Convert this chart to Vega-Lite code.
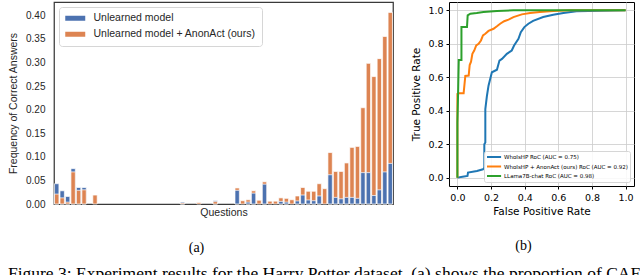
{
  "$schema": "https://vega.github.io/schema/vega-lite/v6.json",
  "background": "white",
  "padding": {"left": 7, "top": 1, "right": 2, "bottom": 0},
  "spacing": 17,
  "resolve": {"scale": {"color": "independent"}, "legend": {"color": "independent"}},
  "title": {"text": "Figure 3: Experiment results for the Harry Potter dataset. (a) shows the proportion of CAF", "orient": "bottom", "anchor": "start", "font": "Liberation Serif", "fontSize": 17.5, "fontWeight": "normal", "color": "black", "offset": 10},
  "datasets": {
    "bars": [
      {"q": 0, "u": 0.043, "a": 0.021}, {"q": 1, "u": 0.028, "a": 0.013}, {"q": 2, "u": 0.016, "a": 0.004},
      {"q": 3, "u": 0.075, "a": 0.068}, {"q": 4, "u": 0.035, "a": 0.029}, {"q": 5, "u": 0.035, "a": 0.030},
      {"q": 6, "u": 0, "a": 0}, {"q": 7, "u": 0, "a": 0.019}, {"q": 8, "u": 0, "a": 0}, {"q": 9, "u": 0, "a": 0},
      {"q": 10, "u": 0, "a": 0}, {"q": 11, "u": 0, "a": 0}, {"q": 12, "u": 0, "a": 0}, {"q": 13, "u": 0, "a": 0},
      {"q": 14, "u": 0, "a": 0}, {"q": 15, "u": 0, "a": 0}, {"q": 16, "u": 0, "a": 0}, {"q": 17, "u": 0, "a": 0},
      {"q": 18, "u": 0, "a": 0}, {"q": 19, "u": 0, "a": 0}, {"q": 20, "u": 0, "a": 0}, {"q": 21, "u": 0, "a": 0},
      {"q": 22, "u": 0, "a": 0}, {"q": 23, "u": 0.004, "a": 0.002}, {"q": 24, "u": 0, "a": 0}, {"q": 25, "u": 0, "a": 0},
      {"q": 26, "u": 0, "a": 0.003}, {"q": 27, "u": 0, "a": 0}, {"q": 28, "u": 0, "a": 0}, {"q": 29, "u": 0.007, "a": 0.005},
      {"q": 30, "u": 0, "a": 0}, {"q": 31, "u": 0, "a": 0}, {"q": 32, "u": 0, "a": 0}, {"q": 33, "u": 0.029, "a": 0.034},
      {"q": 34, "u": 0, "a": 0.007}, {"q": 35, "u": 0.004, "a": 0.009}, {"q": 36, "u": 0.023, "a": 0.028},
      {"q": 37, "u": 0, "a": 0.008}, {"q": 38, "u": 0.042, "a": 0.047}, {"q": 39, "u": 0, "a": 0.006},
      {"q": 40, "u": 0, "a": 0.006}, {"q": 41, "u": 0.0055, "a": 0.013}, {"q": 42, "u": 0.004, "a": 0.012},
      {"q": 43, "u": 0, "a": 0.009}, {"q": 44, "u": 0.0065, "a": 0.017}, {"q": 45, "u": 0.019, "a": 0.035},
      {"q": 46, "u": 0.0085, "a": 0.027}, {"q": 47, "u": 0.007, "a": 0.027}, {"q": 48, "u": 0.017, "a": 0.043},
      {"q": 49, "u": 0, "a": 0.0325}, {"q": 50, "u": 0.062, "a": 0.109}, {"q": 51, "u": 0.014, "a": 0.069},
      {"q": 52, "u": 0.011, "a": 0.069}, {"q": 53, "u": 0.014, "a": 0.087}, {"q": 54, "u": 0.014, "a": 0.120},
      {"q": 55, "u": 0.012, "a": 0.122}, {"q": 56, "u": 0.0665, "a": 0.204}, {"q": 57, "u": 0.0665, "a": 0.298},
      {"q": 58, "u": 0.018, "a": 0.270}, {"q": 59, "u": 0.030, "a": 0.308}, {"q": 60, "u": 0.068, "a": 0.355},
      {"q": 61, "u": 0.086, "a": 0.406}
    ],
    "roc": [
      {"m": "w", "i": 0, "fpr": 0, "tpr": 0}, {"m": "w", "i": 1, "fpr": 0.03, "tpr": 0.005}, {"m": "w", "i": 2, "fpr": 0.06, "tpr": 0.01},
      {"m": "w", "i": 3, "fpr": 0.063, "tpr": 0.03}, {"m": "w", "i": 4, "fpr": 0.116, "tpr": 0.04}, {"m": "w", "i": 5, "fpr": 0.152, "tpr": 0.05},
      {"m": "w", "i": 6, "fpr": 0.16, "tpr": 0.06}, {"m": "w", "i": 7, "fpr": 0.16, "tpr": 0.2}, {"m": "w", "i": 8, "fpr": 0.166, "tpr": 0.21},
      {"m": "w", "i": 9, "fpr": 0.166, "tpr": 0.41}, {"m": "w", "i": 10, "fpr": 0.175, "tpr": 0.485}, {"m": "w", "i": 11, "fpr": 0.185, "tpr": 0.55},
      {"m": "w", "i": 12, "fpr": 0.205, "tpr": 0.63}, {"m": "w", "i": 13, "fpr": 0.235, "tpr": 0.645}, {"m": "w", "i": 14, "fpr": 0.25, "tpr": 0.7},
      {"m": "w", "i": 15, "fpr": 0.265, "tpr": 0.71}, {"m": "w", "i": 16, "fpr": 0.294, "tpr": 0.74}, {"m": "w", "i": 17, "fpr": 0.323, "tpr": 0.76},
      {"m": "w", "i": 18, "fpr": 0.337, "tpr": 0.79}, {"m": "w", "i": 19, "fpr": 0.363, "tpr": 0.83}, {"m": "w", "i": 20, "fpr": 0.377, "tpr": 0.87},
      {"m": "w", "i": 21, "fpr": 0.398, "tpr": 0.9}, {"m": "w", "i": 22, "fpr": 0.422, "tpr": 0.92}, {"m": "w", "i": 23, "fpr": 0.45, "tpr": 0.937},
      {"m": "w", "i": 24, "fpr": 0.51, "tpr": 0.96}, {"m": "w", "i": 25, "fpr": 0.57, "tpr": 0.974}, {"m": "w", "i": 26, "fpr": 0.63, "tpr": 0.984},
      {"m": "w", "i": 27, "fpr": 0.708, "tpr": 0.995}, {"m": "w", "i": 28, "fpr": 1, "tpr": 1},
      {"m": "o", "i": 0, "fpr": 0, "tpr": 0}, {"m": "o", "i": 1, "fpr": 0, "tpr": 0.5}, {"m": "o", "i": 2, "fpr": 0.012, "tpr": 0.505},
      {"m": "o", "i": 3, "fpr": 0.037, "tpr": 0.505}, {"m": "o", "i": 4, "fpr": 0.047, "tpr": 0.608}, {"m": "o", "i": 5, "fpr": 0.067, "tpr": 0.61},
      {"m": "o", "i": 6, "fpr": 0.073, "tpr": 0.673}, {"m": "o", "i": 7, "fpr": 0.081, "tpr": 0.693}, {"m": "o", "i": 8, "fpr": 0.089, "tpr": 0.74},
      {"m": "o", "i": 9, "fpr": 0.1, "tpr": 0.76}, {"m": "o", "i": 10, "fpr": 0.112, "tpr": 0.79}, {"m": "o", "i": 11, "fpr": 0.126, "tpr": 0.8},
      {"m": "o", "i": 12, "fpr": 0.14, "tpr": 0.82}, {"m": "o", "i": 13, "fpr": 0.152, "tpr": 0.85}, {"m": "o", "i": 14, "fpr": 0.166, "tpr": 0.86},
      {"m": "o", "i": 15, "fpr": 0.185, "tpr": 0.877}, {"m": "o", "i": 16, "fpr": 0.215, "tpr": 0.89}, {"m": "o", "i": 17, "fpr": 0.235, "tpr": 0.905},
      {"m": "o", "i": 18, "fpr": 0.254, "tpr": 0.92}, {"m": "o", "i": 19, "fpr": 0.278, "tpr": 0.935}, {"m": "o", "i": 20, "fpr": 0.304, "tpr": 0.945},
      {"m": "o", "i": 21, "fpr": 0.333, "tpr": 0.96}, {"m": "o", "i": 22, "fpr": 0.383, "tpr": 0.976}, {"m": "o", "i": 23, "fpr": 0.432, "tpr": 0.984},
      {"m": "o", "i": 24, "fpr": 0.49, "tpr": 0.99}, {"m": "o", "i": 25, "fpr": 0.57, "tpr": 0.996}, {"m": "o", "i": 26, "fpr": 0.67, "tpr": 1},
      {"m": "o", "i": 27, "fpr": 1, "tpr": 1},
      {"m": "g", "i": 0, "fpr": 0, "tpr": 0}, {"m": "g", "i": 1, "fpr": 0, "tpr": 0.33}, {"m": "g", "i": 2, "fpr": 0.004, "tpr": 0.5},
      {"m": "g", "i": 3, "fpr": 0.008, "tpr": 0.703}, {"m": "g", "i": 4, "fpr": 0.024, "tpr": 0.703}, {"m": "g", "i": 5, "fpr": 0.024, "tpr": 0.9},
      {"m": "g", "i": 6, "fpr": 0.057, "tpr": 0.9}, {"m": "g", "i": 7, "fpr": 0.061, "tpr": 0.97}, {"m": "g", "i": 8, "fpr": 0.077, "tpr": 0.98},
      {"m": "g", "i": 9, "fpr": 0.115, "tpr": 0.984}, {"m": "g", "i": 10, "fpr": 0.155, "tpr": 0.99}, {"m": "g", "i": 11, "fpr": 0.235, "tpr": 0.996},
      {"m": "g", "i": 12, "fpr": 0.333, "tpr": 1}, {"m": "g", "i": 13, "fpr": 1, "tpr": 1}
    ]
  },
  "hconcat": [
    {
      "width": 339,
      "height": 202,
      "data": {"name": "bars"},
      "transform": [{"fold": ["u", "a"], "as": ["model", "freq"]}],
      "title": {"text": "(a)", "orient": "bottom", "anchor": "middle", "dx": -27, "font": "Liberation Serif", "fontSize": 14, "fontWeight": "normal", "color": "black", "offset": 23},
      "view": {"stroke": "#3a3a3a", "strokeWidth": 1.25},
      "mark": {"type": "bar", "strokeWidth": 0.7},
      "encoding": {
        "x": {"field": "q", "type": "ordinal", "scale": {"paddingInner": 0.2, "paddingOuter": 0.1},
              "axis": {"labels": false, "ticks": false, "domain": false, "title": "Questions", "titleFont": "Liberation Sans", "titleFontSize": 10.5, "titleFontWeight": "normal", "titleColor": "#262626", "titlePadding": 3}},
        "y": {"field": "freq", "type": "quantitative", "stack": null, "scale": {"domain": [0, 0.428], "nice": false},
              "axis": {"values": [0, 0.05, 0.1, 0.15, 0.2, 0.25, 0.3, 0.35, 0.4], "format": ".2f", "ticks": false, "domain": false, "grid": false,
                       "labelFont": "Liberation Sans", "labelFontSize": 10, "labelColor": "#262626", "labelPadding": 9,
                       "title": "Frequency of Correct Answers", "titleFont": "Liberation Sans", "titleFontSize": 10.5, "titleFontWeight": "normal", "titleColor": "#262626", "titlePadding": 7}},
        "color": {"field": "model", "type": "nominal",
                  "scale": {"domain": ["u", "a"], "range": ["#4C72B0", "#DD8452"]},
                  "legend": {"title": null, "orient": "top-left", "offset": 5, "labelExpr": "datum.label == 'u' ? 'Unlearned model' : 'Unlearned model + AnonAct (ours)'",
                             "labelFont": "Liberation Sans", "labelFontSize": 10.5, "labelColor": "#262626", "labelOffset": 18, "labelLimit": 400,
                             "symbolType": "M-1,-0.5H3V0.5H-1Z", "symbolSize": 100, "symbolStrokeWidth": 0, "rowPadding": 5,
                             "fillColor": "white", "strokeColor": "#d6d6d6", "cornerRadius": 3, "padding": 6}},
        "stroke": {"condition": {"test": "datum.freq > 0", "value": "white"}, "value": "transparent"},
        "order": {"field": "freq", "type": "quantitative", "sort": "descending"}
      }
    },
    {
      "width": 185,
      "height": 184,
      "data": {"name": "roc"},
      "title": {"text": "(b)", "orient": "bottom", "anchor": "middle", "dx": -18, "font": "Liberation Serif", "fontSize": 14, "fontWeight": "normal", "color": "black", "offset": 22},
      "view": {"stroke": "black", "strokeWidth": 1},
      "mark": {"type": "line", "strokeWidth": 2, "interpolate": "linear"},
      "encoding": {
        "x": {"field": "fpr", "type": "quantitative", "scale": {"domain": [-0.05, 1.05], "nice": false, "zero": false},
              "axis": {"values": [0, 0.2, 0.4, 0.6, 0.8, 1], "format": ".1f", "domain": false, "grid": true, "gridColor": "#cccccc", "gridWidth": 0.8,
                       "tickSize": 3, "tickColor": "black", "labelPadding": 3, "labelFont": "DejaVu Sans", "labelFontSize": 9.5, "labelColor": "black",
                       "title": "False Positive Rate", "titleFont": "DejaVu Sans", "titleFontSize": 10.5, "titleFontWeight": "normal", "titleColor": "black", "titlePadding": 5}},
        "y": {"field": "tpr", "type": "quantitative", "scale": {"domain": [-0.05, 1.05], "nice": false, "zero": false},
              "axis": {"values": [0, 0.2, 0.4, 0.6, 0.8, 1], "format": ".1f", "domain": false, "grid": true, "gridColor": "#cccccc", "gridWidth": 0.8,
                       "tickSize": 3, "tickColor": "black", "labelPadding": 3, "labelFont": "DejaVu Sans", "labelFontSize": 9.5, "labelColor": "black",
                       "title": "True Positive Rate", "titleFont": "DejaVu Sans", "titleFontSize": 10.5, "titleFontWeight": "normal", "titleColor": "black", "titlePadding": 6}},
        "color": {"field": "m", "type": "nominal",
                  "scale": {"domain": ["w", "o", "g"], "range": ["#1f77b4", "#ff7f0e", "#2ca02c"]},
                  "legend": {"title": null, "orient": "bottom-right", "offset": 4,
                             "labelExpr": "datum.label == 'w' ? 'WhoIsHP RoC (AUC = 0.75)' : datum.label == 'o' ? 'WhoIsHP + AnonAct (ours) RoC (AUC = 0.92)' : 'LLama7B-chat RoC (AUC = 0.98)'",
                             "labelFont": "DejaVu Sans", "labelFontSize": 5.5, "labelColor": "black", "labelOffset": 10, "labelLimit": 400,
                             "symbolType": "M-1,0H3.7", "symbolSize": 36, "symbolStrokeWidth": 2, "rowPadding": 1.5,
                             "fillColor": "rgba(255,255,255,0.85)", "strokeColor": "#d6d6d6", "cornerRadius": 2, "padding": 2}},
        "order": {"field": "i", "type": "quantitative"}
      }
    }
  ]
}
